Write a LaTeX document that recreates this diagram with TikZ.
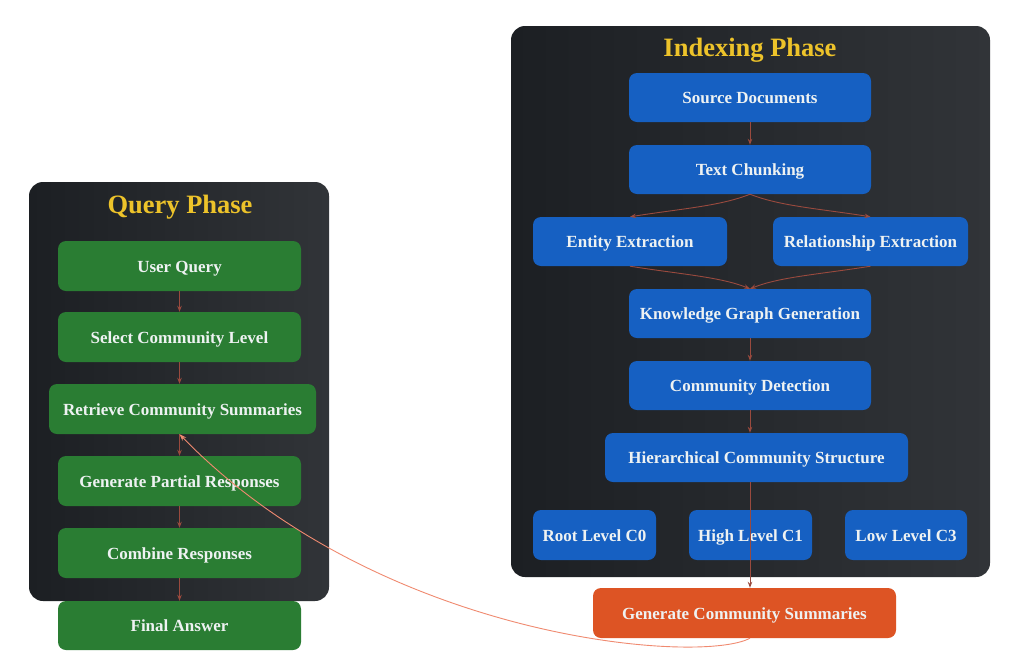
\documentclass[tikz,border=0pt]{standalone}
\usepackage{fontspec}
\setmainfont{Liberation Serif}
\usetikzlibrary{positioning,arrows.meta}

\definecolor{panneauA}{HTML}{1C1F23}
\definecolor{panneauB}{HTML}{313438}
\definecolor{bleuboite}{HTML}{1660C2}
\definecolor{vertboite}{HTML}{2A7D33}
\definecolor{orangeboite}{HTML}{DD5424}
\definecolor{titreor}{HTML}{EDC32A}
\definecolor{fleche}{HTML}{9A4A3E}
\definecolor{flechelien}{HTML}{F08A70}
\definecolor{texteboite}{HTML}{EEF2F2}

\begin{document}
\begin{tikzpicture}[x=1pt, y=-1pt,
    boite/.style={rounded corners=8pt, inner sep=0pt, text=texteboite,
      font=\bfseries\fontsize{17}{19}\selectfont, minimum height=49pt,
      text height=12pt, text depth=0pt},
    bleu/.style={boite, fill=bleuboite},
    vert/.style={boite, fill=vertboite},
    orange/.style={boite, fill=orangeboite},
    titre/.style={text=titreor, font=\bfseries\fontsize{26.5}{30}\selectfont},
    fl/.style={draw=fleche, line width=0.9pt, -{Stealth[length=6pt,width=4.5pt]}}]

  % Fond
  \useasboundingbox (0,0) rectangle (1018,670);
  \fill[white] (0,0) rectangle (1018,670);

  % Panneaux
  \shade[left color=panneauA, right color=panneauB, rounded corners=14pt]
    (511,26) rectangle (990,577);
  \shade[left color=panneauA, right color=panneauB, rounded corners=14pt]
    (29,182) rectangle (329,601);
  \node[titre] (tindex) at (750,50) {Indexing Phase};
  \node[titre] (tquery) at (180,207) {Query Phase};

  % Phase d'indexation
  \node[bleu, minimum width=242pt] (src) at (750,97.5) {Source Documents};
  \node[bleu, minimum width=242pt] (chunk) at (750,169.5) {Text Chunking};
  \node[bleu, minimum width=194pt] (ent) at (630,241.5) {Entity Extraction};
  \node[bleu, minimum width=195pt] (rel) at (870.5,241.5) {Relationship Extraction};
  \node[bleu, minimum width=242pt] (kg) at (750,313.5) {Knowledge Graph Generation};
  \node[bleu, minimum width=242pt] (cd) at (750,385.5) {Community Detection};
  \node[bleu, minimum width=303pt] (hier) at (756.5,457.5) {Hierarchical Community Structure};
  \node[bleu, minimum width=123pt, minimum height=50pt] (c0) at (594.5,535) {Root Level C0};
  \node[bleu, minimum width=123pt, minimum height=50pt] (c1) at (750.5,535) {High Level C1};
  \node[bleu, minimum width=122pt, minimum height=50pt] (c3) at (906,535) {Low Level C3};
  \node[orange, minimum width=303pt, minimum height=50pt] (gcs) at (744.5,613) {Generate Community Summaries};

  % Phase de requete
  \node[vert, minimum width=243pt, minimum height=50pt] (uq) at (179.5,266) {User Query};
  \node[vert, minimum width=243pt, minimum height=50pt] (scl) at (179.5,337) {Select Community Level};
  \node[vert, minimum width=267pt, minimum height=50pt] (rcs) at (182.5,409) {Retrieve Community Summaries};
  \node[vert, minimum width=243pt, minimum height=50pt] (gpr) at (179.5,481) {Generate Partial Responses};
  \node[vert, minimum width=243pt, minimum height=50pt] (cr) at (179.5,553) {Combine Responses};
  \node[vert, minimum width=243pt, minimum height=49pt] (fa) at (179.5,625.5) {Final Answer};

  % Fleches de l'indexation
  \draw[fl] (src) -- (chunk);
  \draw[fl] (chunk.south) .. controls +(-30,12) and +(50,-8) .. (ent.north);
  \draw[fl] (chunk.south) .. controls +(30,12) and +(-50,-8) .. (rel.north);
  \draw[fl] (ent.south) .. controls +(50,8) and +(-30,-12) .. (kg.north);
  \draw[fl] (rel.south) .. controls +(-50,8) and +(30,-12) .. (kg.north);
  \draw[fl] (kg) -- (cd);
  \draw[fl] (cd.south) -- (cd.south |- hier.north);
  \draw[fl] (cd.south |- hier.south) -- (cd.south |- gcs.north);

  % Fleches de la requete
  \draw[fl] (uq) -- (scl);
  \draw[fl] (scl) -- (scl.south |- rcs.north);
  \draw[fl] (scl.south |- rcs.south) -- (gpr);
  \draw[fl] (gpr) -- (cr);
  \draw[fl] (cr) -- (fa);

  % Lien entre les phases
  \draw[draw=flechelien, line width=0.9pt, -{Stealth[length=7pt,width=5pt]}]
    (cd.south |- gcs.south) .. controls (700,665) and (380,640) .. (scl.south |- rcs.south);
\end{tikzpicture}
\end{document}
